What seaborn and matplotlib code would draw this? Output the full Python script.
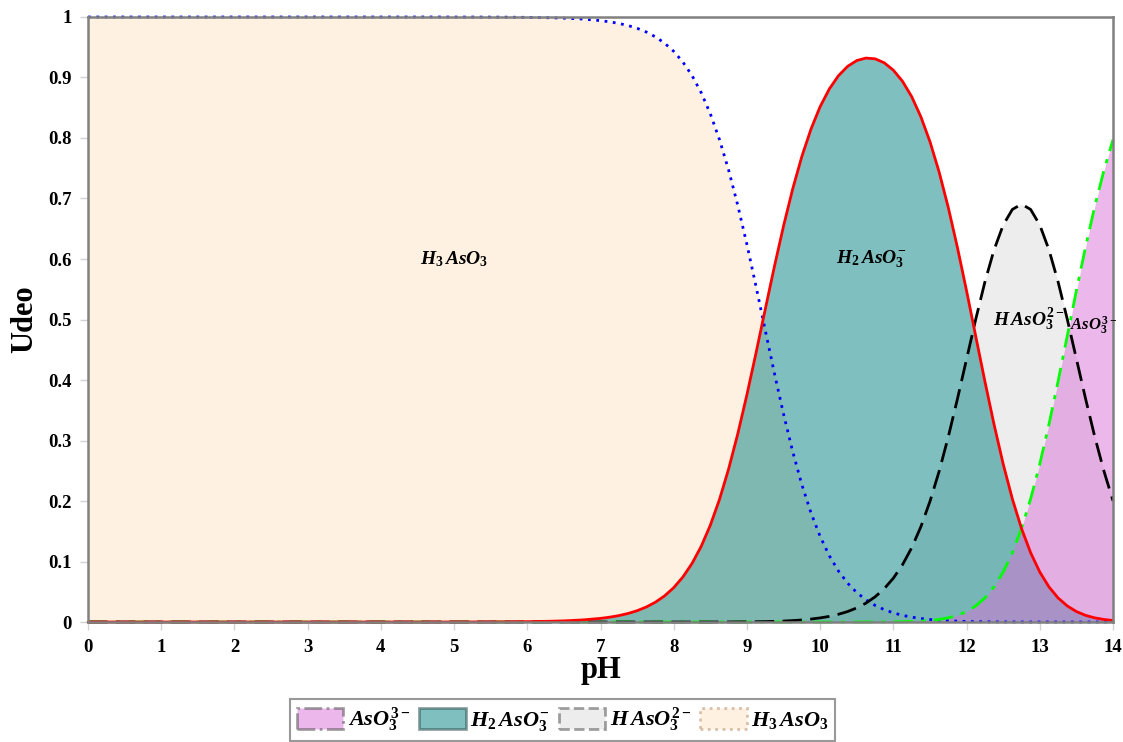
import seaborn as sns
import matplotlib.pyplot as plt
import pandas as pd
from matplotlib.patches import Patch

# pH grid (0.25 steps up to 6.75, then 0.125 steps) and species fractions
ph = [0.0, 0.25, 0.5, 0.75, 1.0, 1.25, 1.5, 1.75, 2.0, 2.25, 2.5, 2.75, 3.0, 3.25,
      3.5, 3.75, 4.0, 4.25, 4.5, 4.75, 5.0, 5.25, 5.5, 5.75, 6.0, 6.25, 6.5, 6.75,
      7.0, 7.125, 7.25, 7.375, 7.5, 7.625, 7.75, 7.875, 8.0, 8.125, 8.25, 8.375,
      8.5, 8.625, 8.75, 8.875, 9.0, 9.125, 9.25, 9.375, 9.5, 9.625, 9.75, 9.875,
      10.0, 10.125, 10.25, 10.375, 10.5, 10.625, 10.75, 10.875, 11.0, 11.125, 11.25,
      11.375, 11.5, 11.625, 11.75, 11.875, 12.0, 12.125, 12.25, 12.375, 12.5, 12.625,
      12.75, 12.875, 13.0, 13.125, 13.25, 13.375, 13.5, 13.625, 13.75, 13.875, 14.0]

h3aso3 = [1.0] * 20 + [
    0.9999, 0.9999, 0.9998, 0.9997, 0.9994, 0.9989, 0.9981, 0.9966,
    0.9940, 0.9920, 0.9894, 0.9859, 0.9813, 0.9752, 0.9672, 0.9568, 0.9432, 0.9256,
    0.9032, 0.8750, 0.8399, 0.7973, 0.7469, 0.6886, 0.6238, 0.5542, 0.4824, 0.4113,
    0.3436, 0.2817, 0.2271, 0.1803, 0.1414, 0.1096, 0.0843, 0.0643, 0.0487, 0.0367,
    0.0275, 0.0205, 0.0151, 0.0111, 0.0081, 0.0058, 0.0042, 0.0029, 0.0020, 0.0014,
    0.0009, 0.0006, 0.0004, 0.0002, 0.0001, 0.0001] + [0.0] * 11

h2aso3 = [0.0] * 20 + [
    0.0001, 0.0001, 0.0002, 0.0003, 0.0006, 0.0011, 0.0019, 0.0034,
    0.0060, 0.0080, 0.0106, 0.0141, 0.0187, 0.0248, 0.0328, 0.0432, 0.0568, 0.0744,
    0.0968, 0.1250, 0.1601, 0.2026, 0.2531, 0.3112, 0.3759, 0.4453, 0.5169, 0.5876,
    0.6547, 0.7159, 0.7695, 0.8148, 0.8519, 0.8810, 0.9030, 0.9184, 0.9280, 0.9321,
    0.9309, 0.9243, 0.9121, 0.8937, 0.8684, 0.8353, 0.7939, 0.7438, 0.6851, 0.6190,
    0.5472, 0.4724, 0.3979, 0.3266, 0.2612, 0.2036, 0.1546, 0.1145, 0.0826, 0.0581,
    0.0398, 0.0266, 0.0173, 0.0110, 0.0069, 0.0042, 0.0025]

haso3 = [0.0] * 41 + [
    0.0001, 0.0001, 0.0002, 0.0003, 0.0005, 0.0007, 0.0011, 0.0016, 0.0024, 0.0034,
    0.0049, 0.0068, 0.0093, 0.0128, 0.0173, 0.0233, 0.0312, 0.0416, 0.0551, 0.0725,
    0.0947, 0.1227, 0.1573, 0.1994, 0.2491, 0.3060, 0.3687, 0.4346, 0.5004, 0.5620,
    0.6151, 0.6561, 0.6819, 0.6907, 0.6819, 0.6562, 0.6153, 0.5622, 0.5007, 0.4350,
    0.3692, 0.3066, 0.2499, 0.2003]

aso3 = [0.0] * 57 + [
    0.0001, 0.0001, 0.0002, 0.0003, 0.0005, 0.0009, 0.0015, 0.0025, 0.0042, 0.0069,
    0.0110, 0.0173, 0.0266, 0.0398, 0.0581, 0.0826, 0.1145, 0.1546, 0.2036, 0.2612,
    0.3266, 0.3980, 0.4727, 0.5477, 0.6198, 0.6865, 0.7459, 0.7972]

labels = [r'$AsO_3^{3-}$', r'$H_2\,AsO_3^{-}$', r'$H\,AsO_3^{2-}$', r'$H_3\,AsO_3$']

df = pd.DataFrame({'pH': ph, 'H3': h3aso3, 'H2': h2aso3, 'H': haso3, 'A': aso3})

sns.set_style('white')
plt.rcParams['font.family'] = ['Liberation Serif', 'DejaVu Serif']
plt.rcParams['font.weight'] = 'bold'
plt.rcParams['text.color'] = 'black'
plt.rcParams['axes.labelcolor'] = 'black'
plt.rcParams['xtick.color'] = 'black'
plt.rcParams['ytick.color'] = 'black'
plt.rcParams['mathtext.fontset'] = 'custom'
plt.rcParams['mathtext.it'] = 'Liberation Serif:italic:bold'
plt.rcParams['mathtext.rm'] = 'Liberation Serif:bold'
plt.rcParams['mathtext.bf'] = 'Liberation Serif:bold'

fig = plt.figure(figsize=(11.23, 7.42), dpi=100)
ax = fig.add_axes([0.0784, 0.1617, 0.9127, 0.8154])

# filled areas (bottom to top)
ax.fill_between(df['pH'], 0, df['H3'], color='bisque', alpha=0.5, lw=0, zorder=1)
ax.fill_between(df['pH'], 0, df['H'], color='gainsboro', alpha=0.5, lw=0, zorder=2)
ax.fill_between(df['pH'], 0, df['H2'], color='teal', alpha=0.5, lw=0, zorder=3)
ax.fill_between(df['pH'], 0, df['A'], color='orchid', alpha=0.5, lw=0, zorder=4)

# curves
sns.lineplot(data=df, x='pH', y='H3', ax=ax, color='blue', lw=2, ls=(0, (1, 2)),
             zorder=6, clip_on=False)
sns.lineplot(data=df, x='pH', y='A', ax=ax, color='lime', lw=2, ls=(0, (7, 3, 1.5, 3)),
             zorder=6, clip_on=False)
sns.lineplot(data=df, x='pH', y='H', ax=ax, color='black', lw=2, ls=(0, (7, 3)),
             zorder=7, clip_on=False)
sns.lineplot(data=df, x='pH', y='H2', ax=ax, color='red', lw=2, zorder=8, clip_on=False)

ax.text(5.0, 0.6, labels[3], fontsize=14, ha='center', va='center', zorder=10)
ax.text(10.7, 0.6, labels[1], fontsize=14, ha='center', va='center', zorder=10)
ax.text(12.85, 0.5, labels[2], fontsize=14, ha='center', va='center', zorder=10)
ax.text(13.73, 0.49, labels[0], fontsize=12, ha='center', va='center', zorder=10)

ax.set_xlim(0, 14)
ax.set_ylim(0, 1)
ax.set_xticks(range(0, 15))
ax.set_yticks([i / 10 for i in range(11)])
ax.set_yticklabels(['0'] + ['0.%d' % i for i in range(1, 10)] + ['1'])
ax.tick_params(axis='both', which='major', labelsize=13.5, length=6, width=1,
               color='lightgray', labelcolor='black', direction='out',
               bottom=True, left=True, pad=6)
for t in ax.get_xticklabels() + ax.get_yticklabels():
    t.set_fontweight('bold')
for s in ax.spines.values():
    s.set_color('gray')
    s.set_linewidth(1.8)
    s.set_zorder(9)

ax.set_xlabel('pH', fontsize=22, fontweight='bold', labelpad=0)
ax.set_ylabel('Udeo', fontsize=22, fontweight='bold', labelpad=6)

handles = [
    Patch(facecolor='orchid', alpha=0.5, edgecolor='#444444', ls='-.', lw=2),
    Patch(facecolor='teal', alpha=0.5, edgecolor='#224444', ls='-', lw=2),
    Patch(facecolor='gainsboro', alpha=0.5, edgecolor='#444444', ls='--', lw=2),
    Patch(facecolor='bisque', alpha=0.5, edgecolor='#b08860', ls=':', lw=2),
]
leg = fig.legend(handles, labels, loc='upper center', bbox_to_anchor=(0.501, 0.058),
                 ncol=4, fontsize=16, frameon=True, fancybox=False, edgecolor='gray',
                 handlelength=2.1, handleheight=1.1, handletextpad=0.2,
                 columnspacing=0.4, borderpad=0.3, borderaxespad=0)
leg.get_frame().set_linewidth(1.5)

fig.savefig('out.png', dpi=100)
